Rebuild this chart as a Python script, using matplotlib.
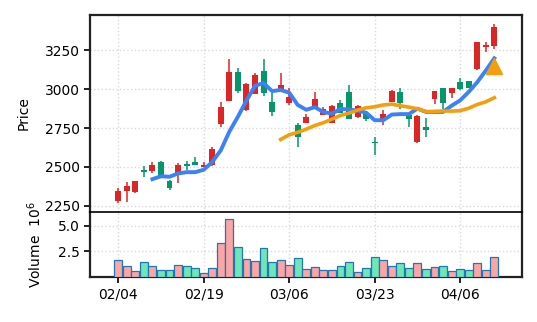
import matplotlib
matplotlib.use("Agg")
import matplotlib.pyplot as plt
import numpy as np
import pandas as pd

# daily OHLC, one row per trading day
opens = [2282, 2347, 2336, 2480, 2475, 2529, 2411, 2459, 2519, 2529,
         2501, 2512, 2774, 2926, 3113, 2866, 2969, 3119, 2918, 2984,
         2909, 2770, 2785, 2888, 2834, 2781, 2909, 2980, 2819, 2845,
         2662, 2810, 2920, 2980, 2832, 2662, 2755, 2935, 3006, 2974,
         3049, 3051, 3128, 3272, 3278]
highs = [2362, 2403, 2410, 2506, 2531, 2538, 2416, 2523, 2540, 2562,
         2533, 2626, 2916, 3195, 3137, 3040, 3107, 3195, 2974, 3107,
         3006, 2781, 2841, 2984, 2884, 2896, 2931, 3027, 2900, 2855,
         2694, 2866, 2992, 3010, 2845, 2832, 2813, 2989, 3006, 3006,
         3070, 3055, 3302, 3302, 3420]
lows = [2269, 2276, 2333, 2437, 2459, 2433, 2351, 2398, 2480, 2510,
        2501, 2508, 2759, 2926, 2974, 2860, 2969, 2958, 2828, 2984,
        2898, 2626, 2785, 2888, 2834, 2781, 2845, 2806, 2817, 2797,
        2576, 2772, 2918, 2873, 2759, 2656, 2694, 2903, 2873, 2946,
        2995, 3006, 3126, 3242, 3257]
closes = [2345, 2377, 2407, 2465, 2510, 2437, 2362, 2512, 2508, 2510,
          2514, 2613, 2888, 3109, 2991, 3034, 3090, 2974, 2851, 3027,
          2948, 2694, 2819, 2935, 2871, 2894, 2845, 2806, 2894, 2806,
          2652, 2843, 2989, 2909, 2806, 2828, 2737, 2989, 2909, 3006,
          3000, 3010, 3302, 3285, 3399]
# volume in millions of shares
volume_m = [1.60, 1.07, 0.58, 1.40, 1.07, 0.68, 0.68, 1.17, 1.07, 0.88,
            0.33, 0.88, 3.31, 5.64, 2.92, 1.75, 1.50, 2.82, 1.40, 1.65,
            1.17, 1.85, 0.78, 0.97, 0.62, 0.68, 1.07, 1.46, 0.43, 0.88,
            1.95, 1.65, 1.07, 1.30, 0.88, 1.36, 0.78, 0.97, 1.07, 0.58,
            0.78, 0.68, 1.30, 0.68, 1.95]

tick_labels = ["02/04", "02/19", "03/06", "03/23", "04/06"]
signal_day = 44
signal_price = 3150

UP = "#dc2626"
DOWN = "#059669"
UP_LIGHT = "#fca5a5"
DOWN_LIGHT = "#6ee7b7"


def draw_candles(ax, df):
    """Draw wicks and bodies; red for up days, green for down days."""
    x = df.index.values
    up = df["close"] >= df["open"]
    colors = np.where(up, UP, DOWN)
    ax.vlines(x, df["low"], df["high"], colors=colors, linewidth=1.1, zorder=2)
    bottom = np.minimum(df["open"], df["close"])
    height = np.maximum((df["close"] - df["open"]).abs(), 6)
    ax.bar(x, height, bottom=bottom, width=0.7, color=colors, zorder=3)


df = pd.DataFrame({"open": opens, "high": highs, "low": lows,
                   "close": closes, "volume": volume_m})
df["ma5"] = df["close"].rolling(5).mean()
df["ma20"] = df["close"].rolling(20).mean()

fig = plt.figure(figsize=(5.37, 3.22), dpi=100)
ax = fig.add_axes([0.1676, 0.3425, 0.8039, 0.6118])
ax_vol = fig.add_axes([0.1676, 0.1407, 0.8039, 0.2018], sharex=ax)

draw_candles(ax, df)
ax.plot(df.index, df["ma5"], color="#3b82f6", linewidth=2.8, zorder=4)
ax.plot(df.index, df["ma20"], color="#f59e0b", linewidth=2.6, zorder=4)
ax.plot([signal_day], [signal_price], marker="^", markersize=12,
        color="#f59e0b", linestyle="none", zorder=5)

vol_colors = np.where(df["close"] >= df["open"], UP_LIGHT, DOWN_LIGHT)
ax_vol.bar(df.index, df["volume"], width=0.92, color=vol_colors,
           edgecolor="#1f77b4", linewidth=0.9, zorder=3)

ax.set_xlim(-3.3, 47.2)
ax.set_ylim(2211, 3480)
ax.set_yticks([2250, 2500, 2750, 3000, 3250])
ax.set_ylabel("Price", fontsize=10, labelpad=10)
ax.tick_params(axis="x", which="both", bottom=False, labelbottom=False)

ax_vol.set_ylim(0, 6.36)
ax_vol.set_yticks([2.5, 5.0])
ax_vol.set_ylabel("Volume  $10^6$", fontsize=10, labelpad=10)
ax_vol.set_xticks(range(0, len(df), 10))
ax_vol.set_xticklabels(tick_labels)

for a in (ax, ax_vol):
    a.grid(True, linestyle=":", color="#d9d9d9", linewidth=1.0, zorder=0)
    a.set_axisbelow(True)
    a.tick_params(labelsize=10, width=1.4, length=4, color="#222222")
    for side in ("left", "right", "top", "bottom"):
        a.spines[side].set_linewidth(1.6)
        a.spines[side].set_color("#222222")

# thin divider between price and volume panels
ax.spines["bottom"].set_visible(False)
ax_vol.spines["top"].set_linewidth(1.2)
ax_vol.spines["top"].set_color("black")

fig.savefig("out.png", dpi=100)
